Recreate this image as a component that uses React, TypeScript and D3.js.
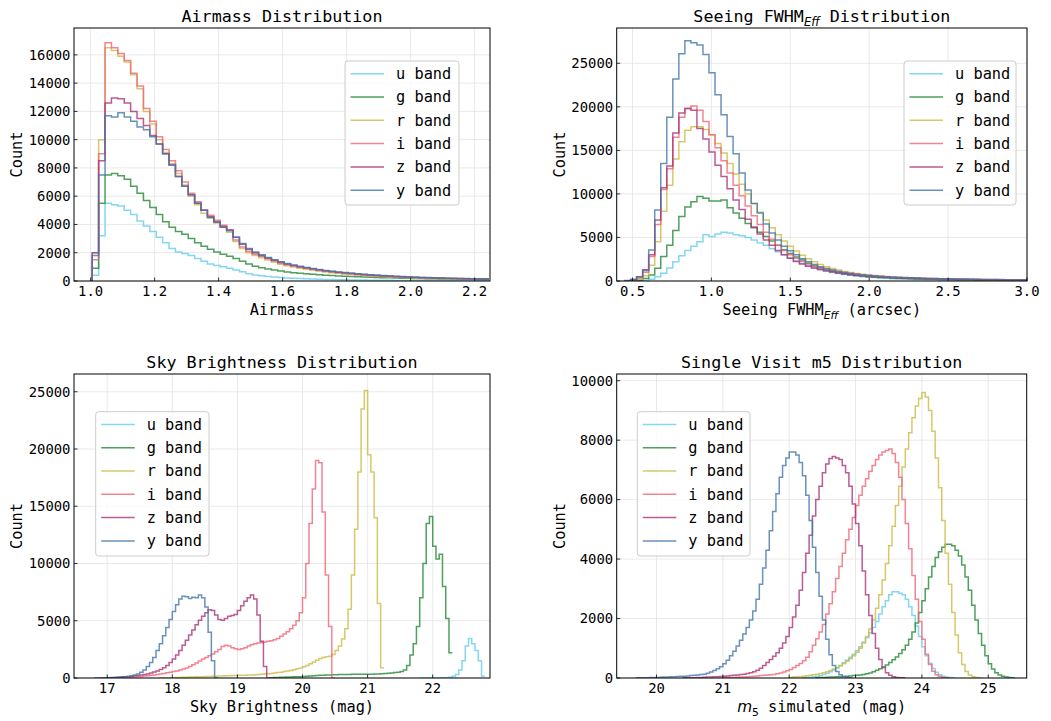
import * as d3 from "d3";

// band order + colours (Tol "bright")
const BANDS = ["u", "g", "r", "i", "z", "y"];
const COLORS = ["#66CCEE", "#228833", "#CCBB44", "#EE6677", "#AA3377", "#4477AA"];

// ---- Airmass histogram: bins of 0.02 starting at 1.005
const airStart = 1.005;
const airWidth = 0.02;
const airU = [400, 3200, 5500, 5400, 5300, 5000, 4700, 4250, 3900, 3500, 3100, 2700, 2300, 2050, 1950, 1800, 1600, 1400, 1200, 1100, 1000, 900, 780, 650, 520, 430, 370, 320, 280, 250, 220, 195, 175, 155, 140, 125, 112, 100, 90, 82, 75, 68, 62, 57, 52, 48, 45, 42, 39, 36, 34, 32, 30, 28, 27, 26, 25, 24, 23, 22, 21, 20];
const airG = [900, 5500, 7500, 7600, 7450, 7200, 6700, 6200, 5700, 5200, 4700, 4200, 3800, 3500, 3300, 3000, 2700, 2450, 2250, 2050, 1900, 1750, 1600, 1400, 1200, 1050, 940, 850, 770, 700, 640, 590, 545, 505, 470, 440, 410, 385, 360, 340, 320, 300, 283, 267, 252, 238, 225, 213, 202, 192, 182, 173, 165, 157, 150, 143, 137, 131, 125, 120, 115, 110];
const airR = [2000, 10000, 16500, 16300, 15900, 15500, 14600, 13600, 12000, 11100, 10000, 9100, 8300, 7600, 6800, 6000, 5400, 4800, 4450, 4100, 3800, 3450, 2800, 2300, 2000, 1800, 1650, 1480, 1330, 1180, 1080, 990, 910, 840, 770, 700, 640, 590, 540, 495, 455, 420, 390, 360, 335, 310, 290, 270, 250, 235, 220, 205, 195, 185, 175, 165, 155, 147, 140, 132, 125, 118];
const airI = [1500, 9000, 16850, 16500, 16100, 15600, 14700, 13800, 12200, 11300, 10200, 9300, 8500, 7800, 7000, 6200, 5600, 5000, 4650, 4300, 3950, 3600, 2900, 2400, 2100, 1900, 1750, 1580, 1420, 1260, 1150, 1060, 980, 900, 820, 750, 690, 630, 580, 530, 490, 455, 420, 390, 360, 335, 310, 290, 270, 255, 240, 225, 210, 200, 190, 180, 170, 160, 150, 142, 135, 128];
const airZ = [2000, 8500, 12600, 12950, 12900, 12600, 12000, 11500, 11000, 10300, 9700, 9000, 8200, 7400, 6700, 6100, 5500, 5000, 4550, 4200, 3850, 3600, 3100, 2600, 2250, 2000, 1800, 1620, 1460, 1320, 1200, 1100, 1010, 930, 860, 790, 730, 670, 620, 580, 540, 500, 465, 430, 400, 375, 350, 325, 305, 285, 265, 250, 235, 220, 208, 196, 185, 175, 166, 158, 150, 143];
const airY = [1800, 7500, 11700, 11600, 11900, 11600, 11300, 10900, 10700, 10200, 9700, 9000, 8200, 7400, 6700, 6100, 5500, 5000, 4500, 4150, 3800, 3550, 3100, 2650, 2300, 2050, 1850, 1660, 1500, 1360, 1240, 1130, 1040, 960, 885, 815, 750, 690, 640, 595, 550, 510, 475, 440, 410, 383, 357, 333, 311, 291, 272, 255, 240, 226, 213, 201, 190, 180, 171, 162, 154, 147];

// ---- Seeing FWHMeff histogram: bins of 0.0382 starting at 0.45
const seeStart = 0.45;
const seeWidth = 0.0382;
const seeU = [0, 0, 0, 50, 200, 500, 900, 1500, 2200, 2900, 3500, 4000, 4500, 5300, 5100, 5400, 5600, 5500, 5300, 5200, 5000, 4700, 4400, 4100, 3700, 3350, 3000, 2650, 2300, 2000, 1750, 1500, 1300, 1130, 980, 850, 740, 650, 570, 500, 440, 390, 345, 305, 272, 243, 218, 196, 177, 160, 145, 132, 120, 110, 100, 92, 84, 77, 71, 65, 60, 55, 51, 47, 43, 40, 37];
const seeG = [0, 0, 100, 300, 700, 1450, 2800, 4100, 5800, 7400, 8500, 9100, 9700, 9500, 9200, 9200, 9300, 8400, 7800, 7200, 6600, 6100, 5600, 5100, 4600, 4100, 3600, 3150, 2750, 2400, 2050, 1750, 1500, 1300, 1120, 970, 840, 730, 640, 565, 500, 450, 405, 368, 336, 308, 284, 262, 243, 226, 210, 196, 183, 171, 160, 150, 141, 132, 124, 117, 110, 104, 98, 92, 87, 82, 78];
const seeR = [0, 50, 200, 600, 1800, 4500, 8000, 11000, 14000, 16000, 17300, 17700, 17700, 17400, 16800, 15800, 14700, 13500, 12300, 11100, 10000, 8900, 7900, 7000, 6100, 5300, 4600, 4000, 3450, 2950, 2550, 2200, 1900, 1650, 1430, 1250, 1100, 970, 860, 770, 690, 620, 560, 510, 465, 425, 390, 360, 333, 308, 286, 266, 248, 232, 217, 203, 191, 180, 170, 160, 151, 143, 135, 128, 121, 115, 109];
const seeI = [0, 100, 350, 1000, 2800, 6500, 10500, 12900, 16500, 18800, 19800, 20100, 19600, 18300, 16800, 15300, 13800, 12400, 11000, 9800, 8600, 7500, 6500, 5600, 4800, 4100, 3500, 3000, 2600, 2250, 1950, 1700, 1520, 1360, 1220, 1100, 990, 890, 800, 720, 650, 590, 540, 495, 455, 420, 390, 362, 338, 316, 296, 278, 262, 247, 233, 220, 208, 197, 187, 177, 168, 160, 152, 145, 138, 131, 125];
const seeZ = [0, 150, 500, 1300, 3000, 7000, 10700, 13200, 17000, 19300, 19800, 19600, 17500, 16300, 14800, 13300, 12000, 10600, 9300, 8200, 7100, 6200, 5400, 4700, 4100, 3500, 3000, 2600, 2250, 1950, 1700, 1500, 1320, 1170, 1040, 930, 830, 745, 670, 605, 550, 500, 455, 418, 385, 355, 330, 306, 285, 266, 249, 233, 218, 205, 193, 182, 172, 162, 153, 145, 137, 130, 123, 117, 111, 105, 100];
const seeY = [50, 200, 500, 1200, 3560, 8150, 13500, 18800, 23200, 26100, 27600, 27350, 27100, 26000, 23900, 21400, 19100, 16600, 14600, 12400, 10450, 8900, 7800, 6550, 5500, 4700, 4000, 3480, 3000, 2550, 2200, 1900, 1650, 1430, 1250, 1100, 970, 860, 770, 690, 620, 565, 515, 475, 440, 410, 385, 360, 340, 320, 300, 285, 270, 255, 240, 228, 216, 205, 195, 185, 175, 166, 158, 150, 142, 135, 128];

// ---- Sky brightness: 0.05 mag bins, each band has its own first edge
const skyWidth = 0.05;
const skyStarts = [21.8, 19.5, 17.8, 17.1, 16.9, 16.8];
const skyU = [0, 0, 0, 0, 0, 0, 10, 20, 30, 60, 150, 300, 700, 1500, 2800, 3450, 3000, 2400, 1500, 150];
const skyG = [30, 40, 50, 60, 70, 80, 90, 100, 110, 120, 140, 160, 180, 200, 220, 240, 250, 260, 270, 280, 290, 300, 300, 310, 310, 320, 320, 330, 330, 320, 320, 330, 340, 350, 370, 390, 410, 440, 470, 510, 560, 700, 1100, 2000, 3000, 4500, 7000, 10000, 13500, 14100, 11500, 10400, 10800, 8000, 5200, 2200];
const skyR = [10, 15, 20, 25, 30, 40, 50, 60, 70, 80, 90, 100, 110, 120, 130, 140, 150, 160, 170, 180, 190, 200, 210, 220, 230, 240, 250, 260, 270, 290, 310, 330, 350, 370, 400, 430, 470, 510, 560, 610, 660, 720, 800, 880, 980, 1100, 1250, 1400, 1550, 1700, 1800, 1850, 1900, 2050, 2400, 2800, 3400, 4300, 6000, 9000, 13000, 18000, 23500, 25100, 19500, 18000, 14000, 6500, 900];
const skyI = [10, 20, 30, 40, 50, 70, 90, 110, 140, 170, 200, 230, 270, 310, 350, 400, 450, 500, 560, 620, 700, 780, 880, 1000, 1150, 1300, 1480, 1650, 1800, 1950, 2100, 2300, 2500, 2750, 2850, 2800, 2650, 2550, 2500, 2550, 2650, 2800, 2900, 3000, 3050, 3100, 3150, 3200, 3250, 3350, 3450, 3650, 3850, 4050, 4300, 4600, 5000, 5700, 7000, 10000, 13500, 16500, 19000, 18800, 14500, 9000, 4500, 0];
const skyZ = [0, 10, 30, 40, 50, 60, 80, 100, 130, 160, 190, 220, 260, 300, 360, 430, 520, 620, 740, 900, 1100, 1350, 1650, 2000, 2400, 2850, 3300, 3750, 4200, 4650, 5050, 5400, 5700, 5950, 5900, 5500, 5100, 5050, 5200, 5400, 5450, 5550, 5900, 6300, 6700, 7000, 7250, 6900, 5500, 3200, 1000, 0];
const skyY = [0, 0, 5, 10, 20, 30, 40, 60, 80, 110, 140, 190, 260, 360, 500, 700, 1000, 1350, 1800, 2400, 3000, 3700, 4400, 5100, 5800, 6400, 6900, 7150, 7100, 6950, 7050, 7000, 7250, 7000, 6200, 4000, 1500, 0];

// ---- Single visit m5: 0.05 mag bins
const m5Width = 0.05;
const m5Starts = [22.2, 22.4, 22.0, 21.0, 20.4, 19.7];
const m5U = [10, 15, 25, 40, 60, 85, 120, 160, 210, 270, 340, 420, 510, 600, 700, 800, 920, 1050, 1200, 1350, 1520, 1700, 1900, 2150, 2400, 2600, 2800, 2900, 2900, 2850, 2800, 2650, 2400, 2100, 1750, 1400, 1050, 750, 500, 320, 190, 110, 60, 30, 15, 5];
const m5G = [10, 15, 20, 25, 30, 35, 40, 45, 50, 60, 70, 80, 90, 100, 120, 140, 170, 210, 260, 310, 370, 440, 520, 610, 710, 820, 950, 1100, 1300, 1550, 1850, 2200, 2600, 3000, 3400, 3750, 4050, 4250, 4400, 4500, 4500, 4450, 4300, 4100, 3800, 3400, 2950, 2450, 1950, 1500, 1100, 750, 480, 300, 180, 100, 55, 30, 15, 5];
const m5R = [20, 30, 40, 50, 60, 75, 90, 110, 130, 150, 180, 210, 250, 300, 350, 410, 480, 560, 650, 750, 870, 1000, 1180, 1400, 1650, 1950, 2350, 2800, 3300, 3850, 4450, 5100, 5800, 6450, 7100, 7700, 8250, 8750, 9150, 9400, 9600, 9450, 9000, 8300, 7400, 6400, 5300, 4200, 3150, 2200, 1450, 850, 450, 220, 100, 40, 15, 5];
const m5I = [5, 10, 15, 20, 25, 30, 35, 40, 50, 60, 70, 80, 90, 100, 110, 120, 140, 170, 200, 240, 290, 350, 420, 490, 580, 700, 880, 1100, 1320, 1550, 1800, 2150, 2500, 2900, 3350, 3750, 4200, 4650, 5000, 5400, 5800, 6150, 6450, 6700, 6950, 7150, 7350, 7500, 7600, 7650, 7700, 7550, 7250, 6750, 6000, 5200, 4350, 3450, 2650, 1900, 1300, 800, 450, 230, 110, 50, 20, 5];
const m5Z = [5, 5, 10, 10, 15, 20, 25, 30, 35, 40, 45, 50, 60, 70, 80, 90, 100, 115, 130, 150, 175, 210, 260, 330, 420, 520, 620, 730, 850, 1000, 1180, 1400, 1700, 2050, 2450, 2950, 3550, 4200, 4800, 5450, 6000, 6450, 6900, 7200, 7380, 7450, 7400, 7350, 7150, 6900, 6450, 5850, 5200, 4450, 3600, 2800, 2100, 1500, 1000, 620, 350, 180, 90, 40, 20, 10, 5];
const m5Y = [5, 5, 10, 10, 15, 15, 20, 25, 30, 35, 40, 45, 50, 55, 60, 70, 80, 90, 100, 115, 130, 160, 200, 250, 310, 380, 480, 600, 750, 900, 1080, 1270, 1480, 1700, 1950, 2250, 2650, 3150, 3700, 4300, 4950, 5600, 6200, 6750, 7150, 7400, 7600, 7600, 7500, 7250, 6800, 6150, 5300, 4400, 3550, 2750, 1950, 1300, 780, 420, 220, 110, 50, 20, 5];

const FONT = "'DejaVu Sans Mono', monospace";
const MATH = "'DejaVu Sans', sans-serif";

type Series = { start: number; width: number; values: number[] };

const panels = [
  {
    title: <>Airmass Distribution</>,
    xlabel: <>Airmass</>,
    box: { x: 74, y: 28, w: 416, h: 253 },
    xDomain: [0.948, 2.248],
    yDomain: [0, 17900],
    xTicks: [1.0, 1.2, 1.4, 1.6, 1.8, 2.0, 2.2],
    yTicks: [0, 2000, 4000, 6000, 8000, 10000, 12000, 14000, 16000],
    xFmt: d3.format(".1f"),
    series: [airU, airG, airR, airI, airZ, airY].map((v) => ({ start: airStart, width: airWidth, values: v })),
    legend: { x: 345, y: 61, w: 114, h: 144 },
  },
  {
    title: (
      <>
        Seeing FWHM
        <tspan fontFamily={MATH} fontStyle="italic" fontSize="0.7em" dy="4">Eff</tspan>
        <tspan dy="-4"> Distribution</tspan>
      </>
    ),
    xlabel: (
      <>
        Seeing FWHM
        <tspan fontFamily={MATH} fontStyle="italic" fontSize="0.7em" dy="4">Eff</tspan>
        <tspan dy="-4"> (arcsec)</tspan>
      </>
    ),
    box: { x: 616.7, y: 28, w: 410.3, h: 253 },
    xDomain: [0.4, 3.0],
    yDomain: [0, 29050],
    xTicks: [0.5, 1.0, 1.5, 2.0, 2.5, 3.0],
    yTicks: [0, 5000, 10000, 15000, 20000, 25000],
    xFmt: d3.format(".1f"),
    series: [seeU, seeG, seeR, seeI, seeZ, seeY].map((v) => ({ start: seeStart, width: seeWidth, values: v })),
    legend: { x: 904, y: 61, w: 112, h: 144 },
  },
  {
    title: <>Sky Brightness Distribution</>,
    xlabel: <>Sky Brightness (mag)</>,
    box: { x: 74, y: 374, w: 416, h: 304 },
    xDomain: [16.49, 22.88],
    yDomain: [0, 26550],
    xTicks: [17, 18, 19, 20, 21, 22],
    yTicks: [0, 5000, 10000, 15000, 20000, 25000],
    xFmt: d3.format("d"),
    series: [skyU, skyG, skyR, skyI, skyZ, skyY].map((v, i) => ({ start: skyStarts[i], width: skyWidth, values: v })),
    legend: { x: 95.7, y: 411.7, w: 113.3, h: 144.3 },
  },
  {
    title: <>Single Visit m5 Distribution</>,
    xlabel: (
      <>
        <tspan fontFamily={MATH} fontStyle="italic">m</tspan>
        <tspan fontFamily={MATH} fontSize="0.7em" dy="4">5</tspan>
        <tspan dy="-4"> simulated (mag)</tspan>
      </>
    ),
    box: { x: 616.7, y: 374, w: 410, h: 304 },
    xDomain: [19.4, 25.58],
    yDomain: [0, 10225],
    xTicks: [20, 21, 22, 23, 24, 25],
    yTicks: [0, 2000, 4000, 6000, 8000, 10000],
    xFmt: d3.format("d"),
    series: [m5U, m5G, m5R, m5I, m5Z, m5Y].map((v, i) => ({ start: m5Starts[i], width: m5Width, values: v })),
    legend: { x: 637.3, y: 411.7, w: 112.7, h: 144.3 },
  },
];

function stepPath(s: Series, x: d3.ScaleLinear<number, number>, y: d3.ScaleLinear<number, number>) {
  const pts: [number, number][] = [[s.start, 0]];
  s.values.forEach((v, i) => pts.push([s.start + i * s.width, v]));
  pts.push([s.start + s.values.length * s.width, s.values[s.values.length - 1]]);
  return d3.line<[number, number]>()
    .x((d) => x(d[0]))
    .y((d) => y(d[1]))
    .curve(d3.curveStepAfter)(pts) || "";
}

function Panel({ p, idx }: { p: any; idx: number }) {
  const { box } = p;
  const x = d3.scaleLinear().domain(p.xDomain).range([box.x, box.x + box.w]);
  const y = d3.scaleLinear().domain(p.yDomain).range([box.y + box.h, box.y]);
  const clipId = `clip${idx}`;
  const cx = box.x + box.w / 2;
  const cy = box.y + box.h / 2;
  const labelX = box.x < 300 ? 17 : 560;
  return (
    <g>
      <defs>
        <clipPath id={clipId}>
          <rect x={box.x} y={box.y} width={box.w} height={box.h} />
        </clipPath>
      </defs>
      {/* grid */}
      <g stroke="#e3e3e3" strokeWidth={0.8}>
        {p.xTicks.map((t: number) => (
          <line key={"gx" + t} x1={x(t)} x2={x(t)} y1={box.y} y2={box.y + box.h} />
        ))}
        {p.yTicks.map((t: number) => (
          <line key={"gy" + t} x1={box.x} x2={box.x + box.w} y1={y(t)} y2={y(t)} />
        ))}
      </g>
      {/* histograms */}
      <g clipPath={`url(#${clipId})`} fill="none" strokeWidth={1.5} strokeOpacity={0.8} strokeLinejoin="miter">
        {p.series.map((s: Series, i: number) => (
          <path key={i} d={stepPath(s, x, y)} stroke={COLORS[i]} />
        ))}
      </g>
      {/* ticks, inward */}
      <g stroke="#000" strokeWidth={0.8}>
        {p.xTicks.map((t: number) => (
          <line key={"tx" + t} x1={x(t)} x2={x(t)} y1={box.y + box.h} y2={box.y + box.h - 3.5} />
        ))}
        {p.yTicks.map((t: number) => (
          <line key={"ty" + t} x1={box.x} x2={box.x + 3.5} y1={y(t)} y2={y(t)} />
        ))}
      </g>
      <rect x={box.x} y={box.y} width={box.w} height={box.h} fill="none" stroke="#000" strokeWidth={1} />
      {/* tick labels */}
      <g fontFamily={FONT} fontSize={13.9} fill="#000">
        {p.xTicks.map((t: number) => (
          <text key={"lx" + t} x={x(t)} y={box.y + box.h + 15} textAnchor="middle">{p.xFmt(t)}</text>
        ))}
        {p.yTicks.map((t: number) => (
          <text key={"ly" + t} x={box.x - 3.5} y={y(t)} dy="0.35em" textAnchor="end">{t}</text>
        ))}
      </g>
      <text x={cx} y={box.y - 6} textAnchor="middle" fontFamily={FONT} fontSize={16.7}>{p.title}</text>
      <text x={cx} y={box.y + box.h + 33.5} textAnchor="middle" fontFamily={FONT} fontSize={15.3}>{p.xlabel}</text>
      <text transform={`translate(${labelX},${cy}) rotate(-90)`} textAnchor="middle" dy="0.35em" fontFamily={FONT} fontSize={15.3}>Count</text>
      {/* legend */}
      <g>
        <rect x={p.legend.x} y={p.legend.y} width={p.legend.w} height={p.legend.h} rx={3} fill="#fff" fillOpacity={0.8} stroke="#cccccc" strokeWidth={1} />
        {BANDS.map((b, i) => {
          const ry = p.legend.y + 12.7 + i * 23.3;
          return (
            <g key={b}>
              <line x1={p.legend.x + 5.5} x2={p.legend.x + 39} y1={ry} y2={ry} stroke={COLORS[i]} strokeOpacity={0.8} strokeWidth={1.5} />
              <text x={p.legend.x + 51} y={ry} dy="0.35em" fontFamily={FONT} fontSize={15.3}>{b} band</text>
            </g>
          );
        })}
      </g>
    </g>
  );
}

export default function App() {
  return (
    <svg width={1051} height={721} style={{ position: "absolute", left: 0, top: 0, background: "#fff" }}>
      <rect width={1051} height={721} fill="#fff" />
      {panels.map((p, i) => (
        <Panel key={i} p={p} idx={i} />
      ))}
    </svg>
  );
}
